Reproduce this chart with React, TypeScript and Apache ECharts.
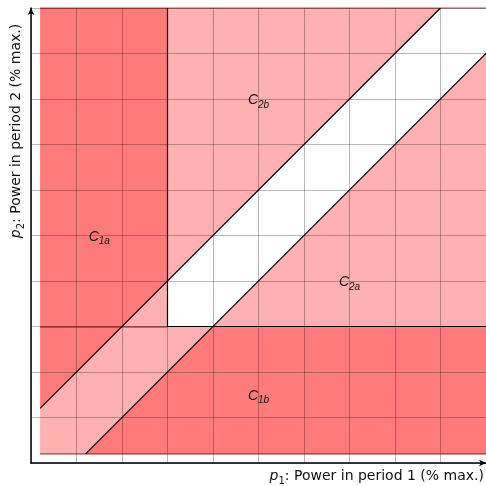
import React, { useEffect, useRef } from "react";
import * as echarts from "echarts";

// Axis range (% max., in units of 10 %)
const axisMin = 0;
const axisMax = 10;
const axisInterval = 1;

// Dark-red regions (C1a, C1b): polygon vertices in data coordinates
const darkRegions: number[][][] = [
  [[0.2, 1.2], [0.2, 10], [3, 10], [3, 4]],
  [[1.2, 0.2], [10, 0.2], [10, 3], [4, 3]],
];

// Light-pink regions (C2b, C2a, diagonal band near origin)
const lightRegions: number[][][] = [
  [[3, 4], [3, 10], [9, 10]],
  [[4, 3], [10, 3], [10, 9]],
  [[0.2, 0.2], [1.2, 0.2], [4, 3], [3, 3], [3, 4], [0.2, 1.2]],
];

// Black boundary lines
const boundaryLines: number[][][] = [
  [[0.2, 1.2], [9, 10]],
  [[1.2, 0.2], [10, 9]],
  [[3, 3], [3, 10]],
  [[3, 3], [10, 3]],
];

// Soft edges of the feasible square
const edgeLines: number[][][] = [
  [[0.2, 10], [10, 10]],
  [[0.2, 0.2], [10, 0.2]],
  [[0.2, 3], [3, 3]],
];

// Region labels
const regionLabels: [number, number, string][] = [
  [1.5, 5, "1a"],
  [5, 8, "2b"],
  [7, 4, "2a"],
  [5, 1.5, "1b"],
];

const DARK = "#ff7a7a";
const LIGHT = "#ffb0b0";

const axisNameRich = {
  i: { fontStyle: "italic", fontSize: 14, fontFamily: "DejaVu Sans", lineHeight: 20, verticalAlign: "middle" },
  s: { fontSize: 10, fontFamily: "DejaVu Sans", lineHeight: 13, verticalAlign: "bottom" },
  n: { fontSize: 14, fontFamily: "DejaVu Sans", lineHeight: 20, verticalAlign: "middle" },
};

export default function App() {
  const ref = useRef<HTMLDivElement>(null);

  useEffect(() => {
    if (!ref.current) return;
    const chart = echarts.init(ref.current, null, { renderer: "svg" });

    const polys = [
      ...darkRegions.map((p) => ({ p, c: DARK })),
      ...lightRegions.map((p) => ({ p, c: LIGHT })),
    ];

    const axisCommon = {
      type: "value",
      min: axisMin,
      max: axisMax,
      interval: axisInterval,
      z: 3,
      axisLabel: { show: false },
      axisTick: { show: false },
      splitLine: { show: true, lineStyle: { color: "rgba(0,0,0,0.27)", width: 1 } },
      axisLine: {
        show: true,
        onZero: false,
        symbol: ["none", "arrow"],
        symbolSize: [5, 7],
        lineStyle: { color: "#000", width: 1.5 },
      },
    };

    chart.setOption({
      animation: false,
      grid: { left: 31, right: 0, top: 8, bottom: 23 },
      xAxis: { ...axisCommon },
      yAxis: { ...axisCommon },
      graphic: [
        {
          type: "text",
          right: 2,
          top: 468,
          style: {
            text: "{i|p}{s|1}{n|: Power in period 1 (% max.)}",
            rich: axisNameRich,
            fill: "#111",
          },
        },
        {
          type: "text",
          x: 15,
          y: 131,
          rotation: Math.PI / 2,
          style: {
            text: "{i|p}{s|2}{n|: Power in period 2 (% max.)}",
            align: "center",
            verticalAlign: "middle",
            rich: axisNameRich,
            fill: "#111",
          },
        },
      ],
      series: [
        {
          type: "custom",
          z: 1,
          silent: true,
          data: polys.map((_, i) => [i]),
          renderItem: (params: any, api: any) => {
            const item = polys[params.dataIndex];
            return {
              type: "polygon",
              shape: { points: item.p.map((pt) => api.coord(pt)) },
              style: { fill: item.c, stroke: null },
            };
          },
        },
        {
          type: "lines",
          coordinateSystem: "cartesian2d",
          z: 4,
          silent: true,
          lineStyle: { color: "rgba(90,0,0,0.55)", width: 1.5, opacity: 1 },
          data: edgeLines.map((c) => ({ coords: c })),
        },
        {
          type: "lines",
          coordinateSystem: "cartesian2d",
          z: 5,
          silent: true,
          lineStyle: { color: "#000", width: 1.2, opacity: 1 },
          data: boundaryLines.map((c) => ({ coords: c })),
        },
        {
          type: "scatter",
          z: 6,
          silent: true,
          symbolSize: 1,
          itemStyle: { color: "rgba(0,0,0,0)" },
          data: regionLabels.map((d) => [d[0], d[1], d[2]]),
          label: {
            show: true,
            position: "inside",
            color: "#111",
            textBorderWidth: 0,
            opacity: 1,
            formatter: (p: any) => `{c|C}{s|${p.data[2]}}`,
            rich: {
              c: { fontStyle: "italic", fontSize: 14, fontFamily: "Liberation Sans", color: "#111", textBorderWidth: 0, lineHeight: 20, verticalAlign: "middle" },
              s: { fontStyle: "italic", fontSize: 10, fontFamily: "Liberation Sans", color: "#111", textBorderWidth: 0, lineHeight: 12, verticalAlign: "bottom" },
            },
          },
        },
      ],
    });

    return () => chart.dispose();
  }, []);

  return (
    <div
      ref={ref}
      style={{ position: "fixed", left: 0, top: 0, width: 486, height: 486 }}
    />
  );
}
